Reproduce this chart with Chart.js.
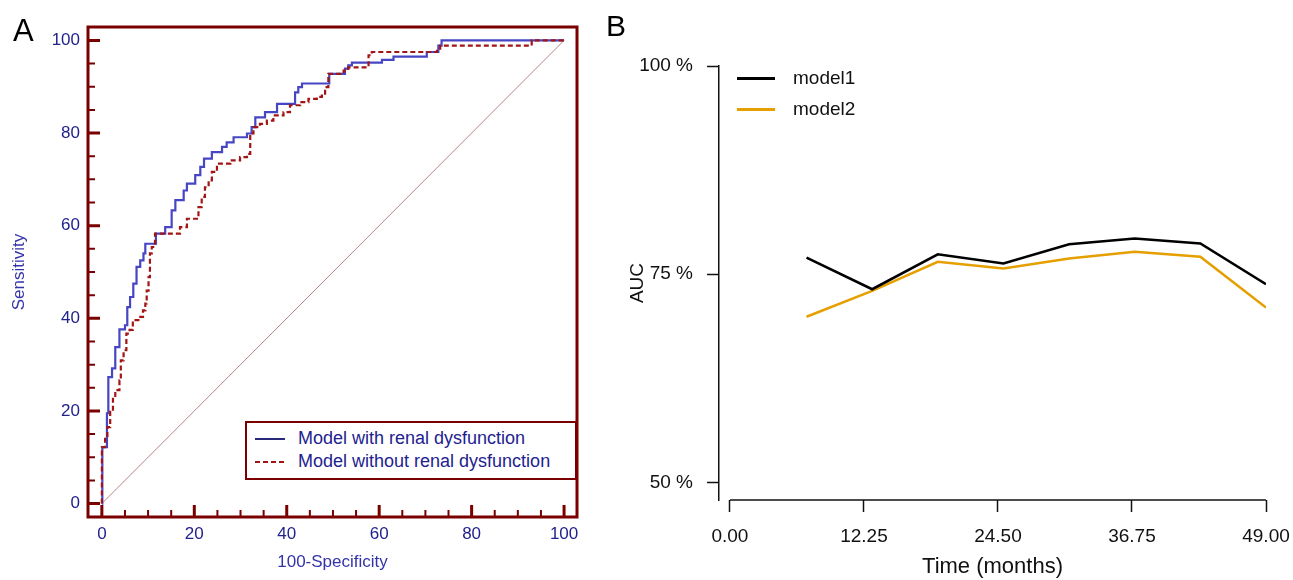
<!DOCTYPE html>
<html>
<head>
<meta charset="utf-8">
<script src="https://cdn.jsdelivr.net/npm/chart.js@4.4.1/dist/chart.umd.min.js"></script>
<style>
  body { margin: 0; background: #fff; font-family: 'Liberation Sans', Arial, sans-serif; }
  #wrap { position: relative; width: 1293px; height: 580px; overflow: hidden; background: #fff; }
  #panelA { position: absolute; left: 0; top: 0; }
  #panelB { position: absolute; left: 600px; top: 0; }
  .letter { position: absolute; line-height: 1; color: #000; }
  #legendA {
    position: absolute; left: 245px; top: 421px; width: 328px; height: 51px;
    border: 2px solid #7a0000; background: #fff; padding-top: 4px; box-sizing: content-box;
  }
  #legendA .row { height: 23px; line-height: 23px; font-size: 18px; color: #22228f; white-space: nowrap; }
  #legendA .sw { display: inline-block; width: 30px; height: 2px; margin: 0 13px 0 8px; vertical-align: middle; }
  #legendB { position: absolute; left: 737px; top: 62px; }
  #legendB .row { height: 31px; line-height: 31px; font-size: 19px; color: #111; white-space: nowrap; }
  #legendB .sw { display: inline-block; width: 38px; height: 3px; margin-right: 18px; vertical-align: middle; }
</style>
</head>
<body>
<div id="wrap">
  <canvas id="panelA" width="600" height="580"></canvas>
  <canvas id="panelB" width="693" height="580"></canvas>
  <div class="letter" style="left:13px; top:15px; font-size:31px;">A</div>
  <div class="letter" style="left:606px; top:11px; font-size:30px;">B</div>
  <div id="legendA"></div>
  <div id="legendB"></div>
</div>
<script>
// ---- panel A: ROC curves (x = 100-Specificity, y = Sensitivity)
const rocWithX = [0, 0.1, 1.1, 1.4, 2.2, 2.9, 3.8, 5.0, 5.5, 6.1, 6.8, 7.5, 8.3, 9.0, 9.4, 11.7, 13.7, 15.1, 15.9, 17.7, 18.4, 20.2, 21.3, 22.1, 23.8, 26.0, 27.0, 28.5, 31.4, 32.4, 33.2, 35.3, 37.9, 41.8, 42.5, 43.3, 49.2, 52.6, 53.3, 54.1, 60.6, 63.1, 70.3, 72.8, 73.5, 100];
const rocWithY = [0, 12.2, 19.5, 27.3, 29.2, 33.8, 37.6, 38.5, 42.4, 44.6, 47.5, 51.1, 52.5, 54.0, 56.1, 58.3, 59.7, 63.3, 65.5, 67.6, 69.1, 70.9, 72.7, 74.5, 75.9, 77.0, 78.0, 79.1, 79.9, 81.3, 83.4, 84.5, 86.3, 88.8, 89.9, 90.7, 92.8, 93.9, 94.6, 95.2, 95.8, 96.5, 97.5, 98.9, 100, 100];
const rocWithoutX = [0, 0, 0.7, 1.2, 1.8, 2.4, 2.9, 3.8, 4.1, 4.7, 5.3, 6.0, 6.7, 7.9, 8.9, 9.4, 9.7, 10.1, 10.4, 10.8, 11.5, 16.9, 18.4, 20.9, 21.6, 22.3, 23.1, 23.8, 24.9, 27.8, 29.9, 31.4, 32.1, 32.8, 34.2, 35.7, 37.1, 39.3, 40.7, 42.9, 44.7, 46.5, 47.6, 48.3, 49.0, 52.3, 53.3, 57.7, 58.4, 72.5, 73.2, 93.0, 100];
const rocWithoutY = [0, 12.2, 14.0, 16.5, 19.8, 23.0, 24.5, 26.6, 30.9, 33.1, 36.7, 37.5, 39.6, 40.3, 41.7, 43.2, 46.0, 48.9, 54.0, 55.4, 58.3, 59.7, 61.5, 64.0, 66.2, 68.3, 69.8, 71.6, 73.4, 74.1, 74.8, 75.5, 79.9, 81.3, 82.0, 82.7, 83.8, 84.5, 86.0, 86.7, 87.4, 87.8, 88.5, 89.9, 92.8, 93.5, 94.2, 96.8, 97.5, 98.2, 98.9, 100, 100];
const diagX = [0, 100];
const diagY = [0, 100];
const rocNames = ['Model with renal dysfunction', 'Model without renal dysfunction'];
const rocTicks = [0, 20, 40, 60, 80, 100];
const rocMinorTicks = [0, 5, 10, 15, 20, 25, 30, 35, 40, 45, 50, 55, 60, 65, 70, 75, 80, 85, 90, 95, 100];

// ---- panel B: time-dependent AUC
const months = [7, 13, 19, 25, 31, 37, 43, 49];
const aucModel1 = [77.0, 73.2, 77.4, 76.3, 78.6, 79.3, 78.7, 73.8];
const aucModel2 = [69.9, 73.0, 76.5, 75.7, 76.9, 77.7, 77.1, 71.0];
const aucNames = ['model1', 'model2'];
const timeTicks = [0, 12.25, 24.5, 36.75, 49];
const aucTicks = [50, 75, 100];

const FONT = "'Liberation Sans', Arial, sans-serif";
const NAVY = '#22228f';
const NAVY_TITLE = '#3333aa';
const FRAME = '#7a0000';
const BLUE = '#4646c4';
const RED = '#a31515';
const ORANGE = '#E69F00';

const pts = (xs, ys) => xs.map((x, i) => ({x: x, y: ys[i]}));

// frame + inward ticks for the ROC panel
const frameTicks = {
    id: 'frameTicks',
    afterDatasetsDraw(chart) {
        const {ctx, chartArea: a, scales: {x, y}} = chart;
        ctx.save();
        ctx.strokeStyle = FRAME;
        rocMinorTicks.forEach(v => {
            const major = rocTicks.includes(v);
            const len = major ? 12 : 7;
            ctx.lineWidth = major ? 3 : 2;
            const px = x.getPixelForValue(v);
            const py = y.getPixelForValue(v);
            ctx.beginPath();
            ctx.moveTo(px, a.bottom);
            ctx.lineTo(px, a.bottom - len);
            ctx.moveTo(a.left, py);
            ctx.lineTo(a.left + len, py);
            ctx.stroke();
        });
        ctx.lineWidth = 3;
        ctx.strokeRect(a.left, a.top, a.right - a.left, a.bottom - a.top);
        ctx.restore();
    }
};

const config_roc = {
    type: 'line',
    data: {
        datasets: [{
            label: rocNames[1],
            data: pts(rocWithoutX, rocWithoutY),
            borderColor: RED,
            borderWidth: 2.2,
            borderDash: [5, 3],
            stepped: true,
            pointRadius: 0,
            order: 0
        },
        {
            label: rocNames[0],
            data: pts(rocWithX, rocWithY),
            borderColor: BLUE,
            borderWidth: 2.2,
            stepped: true,
            pointRadius: 0,
            order: 1
        },
        {
            label: '',
            data: pts(diagX, diagY),
            borderColor: '#b58585',
            borderWidth: 1,
            pointRadius: 0,
            order: 2
        }]
    },
    options: {
        responsive: false,
        animation: false,
        layout: { padding: { left: 0, top: 27, right: 23, bottom: 0 } },
        plugins: { legend: { display: false }, tooltip: { enabled: false } },
        scales: {
            x: {
                type: 'linear', min: -3, max: 102.8,
                afterFit: s => { s.height = 63; s.paddingLeft = 0; s.paddingRight = 0; },
                afterBuildTicks: s => { s.ticks = rocTicks.map(v => ({value: v})); },
                grid: { display: false, drawTicks: false },
                border: { display: false },
                ticks: { color: NAVY, font: { family: FONT, size: 17 }, padding: 7, maxRotation: 0 },
                title: { display: true, text: '100-Specificity', color: NAVY_TITLE, font: { family: FONT, size: 17 }, padding: { top: 0, bottom: 7 } }
            },
            y: {
                type: 'linear', min: -2.9, max: 102.9,
                afterFit: s => { s.width = 88; },
                afterBuildTicks: s => { s.ticks = rocTicks.map(v => ({value: v})); },
                grid: { display: false, drawTicks: false },
                border: { display: false },
                ticks: { color: NAVY, font: { family: FONT, size: 17 }, padding: 8 },
                title: { display: true, text: 'Sensitivity', color: NAVY_TITLE, font: { family: FONT, size: 17 }, padding: { top: 9, bottom: 0 } }
            }
        }
    },
    plugins: [frameTicks]
};

var chart_roc = new Chart(document.getElementById('panelA'), config_roc);


// ************************************************************************

// x axis line only between the first and last tick (R style)
const xAxisLine = {
    id: 'xAxisLine',
    afterDraw(chart) {
        const {ctx, chartArea: a, scales: {x}} = chart;
        ctx.save();
        ctx.strokeStyle = '#111';
        ctx.lineWidth = 1.5;
        ctx.beginPath();
        ctx.moveTo(x.getPixelForValue(timeTicks[0]), a.bottom);
        ctx.lineTo(x.getPixelForValue(timeTicks[timeTicks.length - 1]), a.bottom);
        ctx.stroke();
        ctx.restore();
    }
};

const config_auc = {
    type: 'line',
    data: {
        datasets: [{
            label: aucNames[0],
            data: pts(months, aucModel1),
            borderColor: '#000',
            borderWidth: 2.6,
            pointRadius: 0,
            tension: 0
        },
        {
            label: aucNames[1],
            data: pts(months, aucModel2),
            borderColor: ORANGE,
            borderWidth: 2.6,
            pointRadius: 0,
            tension: 0
        }]
    },
    options: {
        responsive: false,
        animation: false,
        layout: { padding: { left: 0, top: 66, right: 27, bottom: 0 } },
        plugins: { legend: { display: false }, tooltip: { enabled: false } },
        scales: {
            x: {
                type: 'linear', min: -1.0, max: 49,
                afterFit: s => { s.height = 80; s.paddingLeft = 0; s.paddingRight = 0; },
                afterBuildTicks: s => { s.ticks = timeTicks.map(v => ({value: v})); },
                grid: { drawOnChartArea: false, drawTicks: true, tickLength: 12, tickWidth: 1.5, tickColor: '#111' },
                border: { display: false },
                ticks: { color: '#111', font: { family: FONT, size: 19 }, padding: 13, maxRotation: 0,
                    callback: v => Number(v).toFixed(2) },
                title: { display: true, text: 'Time (months)', color: '#111', font: { family: FONT, size: 22 }, padding: { top: 0, bottom: 0 } }
            },
            y: {
                type: 'linear', min: 47.9, max: 100,
                afterFit: s => { s.width = 119; },
                afterBuildTicks: s => { s.ticks = aucTicks.map(v => ({value: v})); },
                grid: { drawOnChartArea: false, drawTicks: true, tickLength: 12, tickWidth: 1.5, tickColor: '#111' },
                border: { display: true, color: '#111', width: 1.5 },
                ticks: { color: '#111', font: { family: FONT, size: 19 }, padding: 14,
                    callback: v => v + ' %' },
                title: { display: true, text: 'AUC', color: '#111', font: { family: FONT, size: 19 }, padding: { top: 26, bottom: 0 } }
            }
        }
    },
    plugins: [xAxisLine]
};

var chart_auc = new Chart(document.getElementById('panelB'), config_auc);


// ************************************************************************
// html legends, built from the dataset labels

function legendRow(parent, name, swatchStyle) {
    const row = document.createElement('div');
    row.className = 'row';
    const sw = document.createElement('span');
    sw.className = 'sw';
    sw.style.cssText = swatchStyle;
    row.appendChild(sw);
    row.appendChild(document.createTextNode(name));
    parent.appendChild(row);
}

const legA = document.getElementById('legendA');
legendRow(legA, rocNames[0], 'background:#2a2a7a; height:2px;');
legendRow(legA, rocNames[1], 'background:repeating-linear-gradient(90deg,' + RED + ' 0 5px, transparent 5px 8px); height:2px;');

const legB = document.getElementById('legendB');
legendRow(legB, aucNames[0], 'background:#000;');
legendRow(legB, aucNames[1], 'background:' + ORANGE + ';');
</script>
</body>
</html>
